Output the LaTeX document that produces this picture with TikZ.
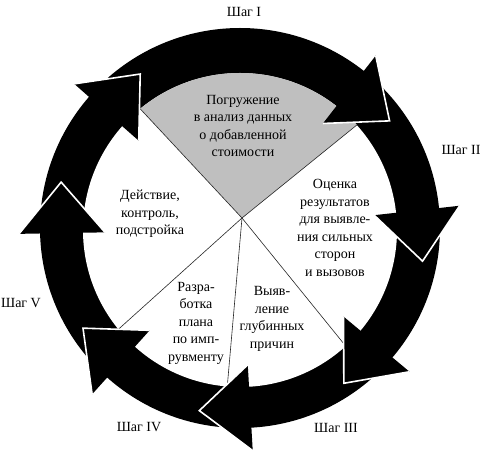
\documentclass[tikz,border=0pt]{standalone}
\usepackage{fontspec}
\setmainfont{Liberation Serif}
\usetikzlibrary{calc}
\begin{document}
\begin{tikzpicture}[x=1pt,y=1pt,
  sectorline/.style={draw=black!85, line width=0.6pt},
  headedge/.style={draw=white, line width=1.6pt, line join=miter},
  txt/.style={font=\fontsize{14}{17.5}\selectfont, align=center, inner sep=0pt},
  steplabel/.style={font=\fontsize{14}{16}\selectfont, inner sep=0pt}]
\useasboundingbox (0,0) rectangle (488,450);
\coordinate (C) at (240,220);
\coordinate (A) at (242,232);
% ring
\fill[black] (240,222) circle (200);
\fill[white] (240,220) circle (157);
% sectors
\begin{scope}
\clip (240,220) circle (157);
\fill[black!25] (A) -- ($(A)+(39:260)$) -- ($(A)+(133:260)$) -- cycle;
\foreach \a in {39,133,-51,-95,-138} \draw[sectorline] (A) -- ($(A)+(\a:260)$);
\end{scope}
% arrow heads
\foreach \t/\n in {138.6/h1, 52.1/h2, 6.3/h3, -39.9/h4, -86.7/h5, -132/h6, -179/h7} {
  \coordinate (m\n) at ($(C)+(\t:178)$);
  \coordinate (a\n) at ($(m\n)+(\t:43)$);
  \coordinate (b\n) at ($(m\n)-(\t:43)$);
  \coordinate (t\n) at ($(m\n)+(\t-90:51)$);
  \fill[black] (a\n) -- (t\n) -- (b\n) -- cycle;
  \draw[headedge] (a\n) -- (t\n) -- (b\n);
}
% texts
\node[txt] (s1) at (243,324) {Погружение\\в анализ данных\\о добавленной\\стоимости};
\node[txt] (s2) at (335,222) {Оценка\\результатов\\для выявле-\\ния сильных\\сторон\\и вызовов};
\node[txt] (s3) at (272,131) {Выяв-\\ление\\глубинных\\причин};
\node[txt] (s4) at (196,127) {Разра-\\ботка\\плана\\по имп-\\рувменту};
\node[txt] (s5) at (150,236) {Действие,\\контроль,\\подстройка};
% step labels
\node[steplabel] (l1) at (244,438) {Шаг I};
\node[steplabel] (l2) at (461,300) {Шаг II};
\node[steplabel] (l3) at (336,22) {Шаг III};
\node[steplabel] (l4) at (139,23) {Шаг IV};
\node[steplabel] (l5) at (21,147) {Шаг V};
\end{tikzpicture}
\end{document}
